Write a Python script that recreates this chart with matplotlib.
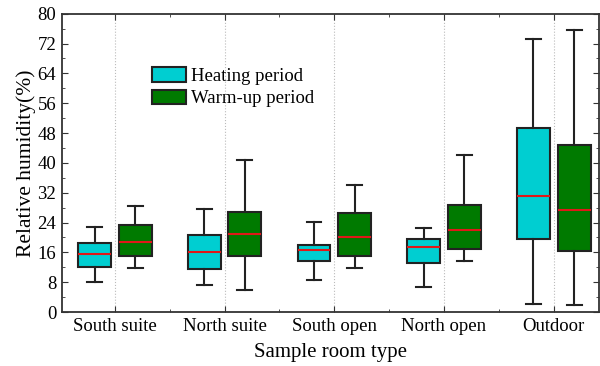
import matplotlib.pyplot as plt
from matplotlib.patches import Patch

plt.rcParams['font.family'] = ['Liberation Serif', 'DejaVu Serif']

rooms = ['South suite', 'North suite', 'South open', 'North open', 'Outdoor']

# whisker low, Q1, median, Q3, whisker high
heat_lo = [8.1, 7.2, 8.6, 6.7, 2.1]
heat_q1 = [12.2, 11.5, 13.8, 13.2, 19.6]
heat_med = [15.5, 16.2, 16.6, 17.4, 31.1]
heat_q3 = [18.4, 20.6, 18.1, 19.6, 49.4]
heat_hi = [22.9, 27.6, 24.2, 22.6, 73.2]

warm_lo = [11.9, 5.8, 11.7, 13.8, 1.9]
warm_q1 = [15.1, 15.1, 15.0, 17.0, 16.4]
warm_med = [18.7, 20.9, 20.0, 22.0, 27.4]
warm_q3 = [23.4, 26.8, 26.5, 28.7, 44.9]
warm_hi = [28.3, 40.7, 34.1, 42.1, 75.7]

heat_color = '#00CED1'
warm_color = '#007A00'
edge = '#222222'


def make_stats(lo, q1, med, q3, hi):
    return [{'whislo': a, 'q1': b, 'med': c, 'q3': d, 'whishi': e, 'fliers': []}
            for a, b, c, d, e in zip(lo, q1, med, q3, hi)]


fig = plt.figure(figsize=(6, 3.66), dpi=100)
ax = fig.add_axes([0.103, 0.1475, 0.895, 0.815])

pos = list(range(1, len(rooms) + 1))
offset = 0.185
width = 0.30

for stats, shift, color in [(make_stats(heat_lo, heat_q1, heat_med, heat_q3, heat_hi), -offset, heat_color),
                            (make_stats(warm_lo, warm_q1, warm_med, warm_q3, warm_hi), offset, warm_color)]:
    ax.bxp(stats, positions=[p + shift for p in pos], widths=width,
           patch_artist=True, showfliers=False,
           boxprops=dict(facecolor=color, edgecolor=edge, linewidth=1.5),
           whiskerprops=dict(color=edge, linewidth=1.5),
           capprops=dict(color=edge, linewidth=1.5),
           medianprops=dict(color='#E01818', linewidth=1.5),
           capwidths=width * 0.45)

# dotted separators at category centres
for p in pos:
    ax.axvline(p, color='#bbbbbb', linestyle=':', linewidth=0.8, zorder=0)

ax.set_xlim(0.517, 5.41)
ax.set_ylim(0, 80)
ax.set_yticks(range(0, 81, 8))
ax.set_yticks(range(4, 80, 8), minor=True)
ax.set_xticks(pos)
ax.set_xticklabels(rooms)
ax.set_xticks([p + 0.5 for p in pos[:-1]], minor=True)
ax.tick_params(which='both', direction='in', top=True, right=True, labelsize=13.5, color='#333333')
ax.tick_params(which='major', length=4, pad=4)
ax.tick_params(which='minor', length=2.5)
for s in ax.spines.values():
    s.set_linewidth(1.3)
    s.set_color('#333333')

ax.set_xlabel('Sample room type', fontsize=15, labelpad=6)
ax.set_ylabel('Relative humidity(%)', fontsize=15.5, labelpad=1)

handles = [Patch(facecolor=heat_color, edgecolor=edge, linewidth=1.5, label='Heating period'),
           Patch(facecolor=warm_color, edgecolor=edge, linewidth=1.5, label='Warm-up period')]
ax.legend(handles=handles, loc='upper left', bbox_to_anchor=(0.168, 0.82), frameon=False,
          fontsize=13.5, handlelength=1.8, handleheight=0.8, handletextpad=0.3,
          labelspacing=0.25, borderpad=0, borderaxespad=0)

fig.savefig('out.png', dpi=100)
